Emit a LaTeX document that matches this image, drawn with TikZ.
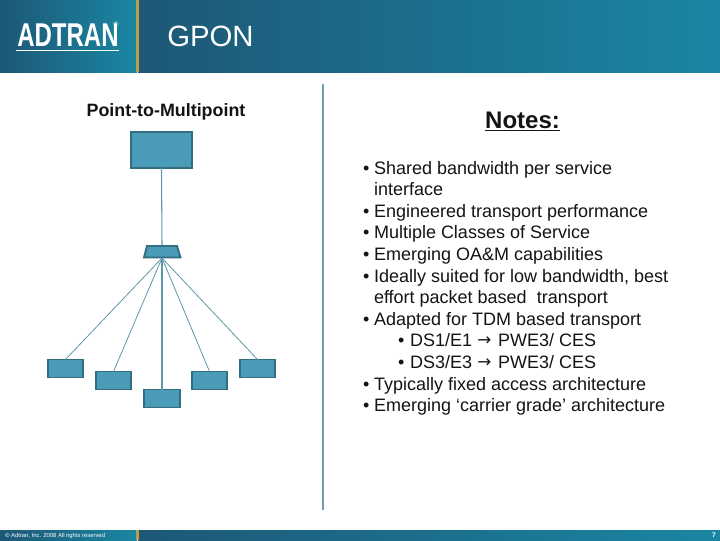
\documentclass[tikz,border=0pt]{standalone}
\usepackage{fontspec}
\setmainfont{Liberation Sans}
\newfontfamily\arrowfont{DejaVu Sans}
\definecolor{hdark}{HTML}{1D5876}
\definecolor{hteal}{HTML}{1A86A3}
\definecolor{gold}{HTML}{B79F4C}
\definecolor{boxfill}{HTML}{4A9BB7}
\definecolor{boxline}{HTML}{336D80}
\definecolor{rulecol}{HTML}{6F9EB3}
\definecolor{linkcol}{HTML}{5F98A8}
\tikzset{
  x=0.75pt,y=-0.75pt,
  netbox/.style={rectangle,fill=boxfill,draw=boxline,line width=1.4pt,inner sep=0pt,outer sep=0pt,minimum width=26.5pt,minimum height=13.5pt},
  hubbox/.style={rectangle,fill=boxfill,draw=boxline,line width=1.4pt,inner sep=0pt,outer sep=0pt,minimum width=45.5pt,minimum height=26.5pt},
  splitshape/.style={fill=boxfill,draw=boxline,line width=1.4pt,line join=miter},
  link/.style={draw=linkcol,line width=0.6pt},
  body/.style={anchor=base west,inner sep=0pt,outer sep=0pt,font=\fontsize{13.5}{15}\selectfont,text=black!92},
}
\newcommand{\bulline}[3]{%
  \node[body] (b#1) at (363,#2) {•};
  \node[body] (t#1) at (374,#2) {#3};}
\newcommand{\contline}[3]{%
  \node[body] (t#1) at (374,#2) {#3};}
\newcommand{\subline}[3]{%
  \node[body] (b#1) at (398,#2) {•};
  \node[body] (t#1) at (410,#2) {#3};}
\newcommand{\arr}{\hspace{4pt}{\arrowfont\fontsize{12.5}{14}\selectfont\raisebox{0.2pt}{→}}\hspace{5pt}}
\begin{document}
\begin{tikzpicture}
\useasboundingbox (0,0) rectangle (720,540);
\fill[white] (0,0) rectangle (720,540);
% header
\shade[left color=hdark,right color=hteal] (0,0) rectangle (137,72);
\shade[left color=hdark,right color=hteal] (138,0) rectangle (720,72);
\fill[gold] (136,0) rectangle (139,72);
% footer
\shade[left color=hdark,right color=hteal] (0,530) rectangle (137,540);
\shade[left color=hdark,right color=hteal] (138,530) rectangle (720,540);
\fill[gold] (136,530) rectangle (139,540);
% logo
\node[anchor=base west,inner sep=0pt,text=white,font=\bfseries] (logo) at (17,46) {\resizebox{76pt}{17pt}{ADTRAN}};
\coordinate (ula) at (16,50);
\coordinate (ulb) at (119,50);
\draw[white,line width=0.7pt] (ula) -- (ulb);
\node[anchor=center,inner sep=0pt,text=white,font=\fontsize{5}{6}\selectfont] (reg) at (116,24) {®};
% title
\node[anchor=base west,inner sep=0pt,text=white,font=\fontsize{22}{24}\selectfont] (title) at (167,46) {GPON};
\node[anchor=west,inner sep=0pt,text=white,font=\fontsize{4.4}{5}\selectfont] (copy) at (5,535.5) {© Adtran, Inc. 2008 All rights reserved};
\node[anchor=center,inner sep=0pt,text=white,font=\bfseries\fontsize{5}{6}\selectfont] (pg) at (714,535.5) {7};
% left
\node[anchor=base,inner sep=0pt,font=\bfseries\fontsize{13.4}{15}\selectfont,text=black!92] (p2m) at (166,116) {Point-to-Multipoint};
\coordinate (ra) at (323,84);
\coordinate (rb) at (323,510);
\draw[rulecol,line width=1.5pt] (ra) -- (rb);
% network
\node[hubbox] (hub) at (161.5,150) {};
\coordinate (split) at (162,258);
\coordinate (splittop) at (162,246);
\draw[link,line width=0.8pt] (hub.south) -- (splittop);
\foreach \n/\x/\y in {a/65.5/368.5,b/113.5/380.5,c/162/398.5,d/209.5/380.5,e/257.5/368.5}{
  \node[netbox] (\n) at (\x,\y) {};
}
\draw[splitshape] (147,246) -- (177,246) -- (180.5,257.5) -- (144,257.5) -- cycle;
\draw[link] (split) -- (a.north);
\draw[link] (split) -- (b.north);
\draw[link,line width=0.8pt] (split) -- (c.north);
\draw[link] (split) -- (d.north);
\draw[link] (split) -- (e.north);
% notes
\node[anchor=base,inner sep=0pt,font=\bfseries\fontsize{18}{20}\selectfont,text=black!92] (notes) at (522.5,128) {\underline{Notes:}};
\bulline{1}{174}{Shared bandwidth per service}
\contline{2}{195}{interface}
\bulline{3}{217}{Engineered transport performance}
\bulline{4}{238}{Multiple Classes of Service}
\bulline{5}{260}{Emerging OA\&M capabilities}
\bulline{6}{282}{Ideally suited for low bandwidth, best}
\contline{7}{303}{effort packet based\ \ transport}
\bulline{8}{325}{Adapted for TDM based transport}
\subline{9}{346}{DS1/E1\arr PWE3/ CES}
\subline{10}{368}{DS3/E3\arr PWE3/ CES}
\bulline{11}{390}{Typically fixed access architecture}
\bulline{12}{411}{Emerging ‘carrier grade’ architecture}
\end{tikzpicture}
\end{document}
